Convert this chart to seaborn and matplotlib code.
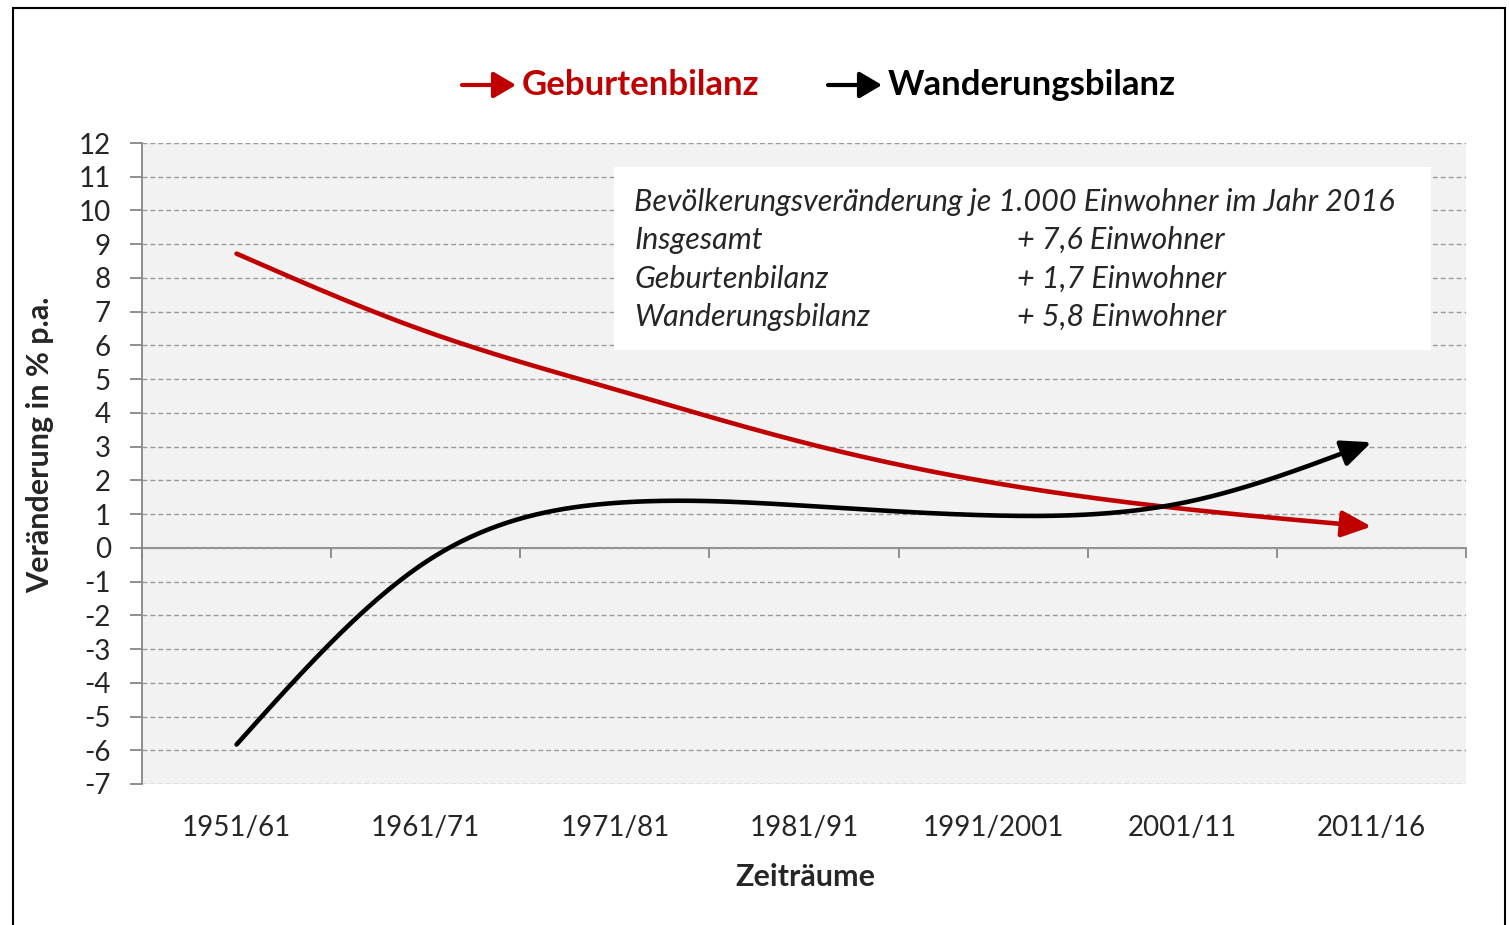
import numpy as np
import pandas as pd
import matplotlib
matplotlib.use("Agg")
import matplotlib.pyplot as plt
import seaborn as sns
from matplotlib.patches import Rectangle

# Data
zeitraeume = ["1951/61", "1961/71", "1971/81", "1981/91", "1991/2001", "2001/11", "2011/16"]
geburtenbilanz = [8.72, 6.42, 4.70, 3.12, 1.93, 1.16, 0.63]
wanderungsbilanz = [-5.83, -0.42, 1.33, 1.25, 0.96, 1.33, 3.13]

box_title = "Bevölkerungsveränderung je 1.000 Einwohner im Jahr 2016"
box_rows = ["Insgesamt", "Geburtenbilanz", "Wanderungsbilanz"]
box_values = ["+ 7,6 Einwohner", "+ 1,7 Einwohner", "+ 5,8 Einwohner"]

RED = "#C00000"
BLACK = "#000000"
W, H = 1509, 925


def smooth(vals, n=60):
    # smoothed line: natural cubic spline through the points
    y = np.asarray(vals, dtype=float)
    k = len(y)
    A = np.zeros((k, k))
    b = np.zeros(k)
    A[0, 0] = A[-1, -1] = 1
    for i in range(1, k - 1):
        A[i, i - 1], A[i, i], A[i, i + 1] = 1, 4, 1
        b[i] = 6 * (y[i + 1] - 2 * y[i] + y[i - 1])
    m = np.linalg.solve(A, b)
    xs, ys = [], []
    for i in range(k - 1):
        t = np.linspace(0, 1, n, endpoint=False)
        seg = ((1 - t) * y[i] + t * y[i + 1]
               + ((1 - t) ** 3 - (1 - t)) * m[i] / 6 + (t ** 3 - t) * m[i + 1] / 6)
        xs.append(i + t)
        ys.append(seg)
    xs.append([k - 1])
    ys.append([y[-1]])
    return np.concatenate(xs), np.concatenate(ys)


def px(x, y):
    return x / W, 1 - y / H


sns.set_style("white")
plt.rcParams["font.family"] = ["Lato", "DejaVu Sans"]
plt.rcParams["axes.unicode_minus"] = False

fig = plt.figure(figsize=(W / 100, H / 100), dpi=100)
ax = fig.add_axes([142 / W, (H - 784) / H, 1324 / W, 641 / H])
ax.set_facecolor("#F2F2F2")

# gridlines
ax.set_ylim(-7, 12)
ax.set_xlim(-0.5, 6.5)
ax.set_yticks(range(-7, 13))
ax.yaxis.grid(True, color="#9A9A9A", linestyle=(0, (3.5, 2.2)), linewidth=1.0)
ax.set_axisbelow(True)

# lines with arrows at the end
for vals, color in [(geburtenbilanz, RED), (wanderungsbilanz, BLACK)]:
    sx, sy = smooth(vals)
    df = pd.DataFrame({"x": sx, "y": sy})
    cut = len(df) - 9
    sns.lineplot(data=df.iloc[:cut + 1], x="x", y="y", color=color, linewidth=3.3,
                 ax=ax, solid_capstyle="round", zorder=4)
    ax.annotate("", xy=(sx[-1], sy[-1]), xytext=(sx[cut], sy[cut]),
                arrowprops=dict(arrowstyle="-|>,head_length=0.9,head_width=0.4",
                                color=color, lw=3.3, mutation_scale=20,
                                shrinkA=0, shrinkB=0), zorder=5)

# axes styling
for s in ["top", "right", "bottom"]:
    ax.spines[s].set_visible(False)
ax.spines["left"].set_color("#868686")
ax.spines["left"].set_linewidth(1.3)
ax.tick_params(axis="y", direction="out", length=8.5, width=1.3, color="#868686",
               labelsize=20, pad=14, left=True)
ax.set_xticks(range(len(zeitraeume)))
ax.set_xticklabels(zeitraeume)
ax.tick_params(axis="x", length=0, labelsize=20, pad=22)
ax.set_xlabel("")
ax.set_ylabel("")

# zero axis with category separators
zero = ax.secondary_xaxis(7 / 19)
zero.set_xticks(np.arange(-0.5, 7, 1))
zero.tick_params(axis="x", direction="out", length=7, width=1.3, color="#868686",
                 labelbottom=False)
zero.spines["bottom"].set_color("#868686")
zero.spines["bottom"].set_linewidth(1.3)

# info box
box = Rectangle(((614 - 142) / 1324, (784 - 350) / 641), (1431 - 614) / 1324, (350 - 167) / 641,
                transform=ax.transAxes, facecolor="white", edgecolor="none", zorder=2)
ax.add_patch(box)
fig.text(*px(634, 202), box_title, fontsize=22, style="italic", va="center", ha="left")
for i, (lab, val) in enumerate(zip(box_rows, box_values)):
    y = 240 + i * 38.5
    fig.text(*px(634, y), lab, fontsize=22, style="italic", va="center", ha="left")
    fig.text(*px(1017, y), val, fontsize=22, style="italic", va="center", ha="left")

# axis titles
fig.text(*px(40, 445), "Veränderung in % p.a.", rotation=90, fontsize=22,
         fontweight="bold", ha="center", va="center")
fig.text(*px(805, 877), "Zeiträume", fontsize=22, fontweight="bold", ha="center", va="center")

# legend
for x0, x1, tx, label, color in [(462, 516, 522, "Geburtenbilanz", RED),
                                  (828, 882, 888, "Wanderungsbilanz", BLACK)]:
    ax.annotate("", xy=px(x1, 85), xytext=px(x0, 85), xycoords="figure fraction",
                textcoords="figure fraction",
                arrowprops=dict(arrowstyle="-|>,head_length=0.85,head_width=0.5",
                                color=color, lw=3.0, mutation_scale=16,
                                shrinkA=0, shrinkB=0))
    fig.text(*px(tx, 85), label, fontsize=25, fontweight="bold", color=color,
             ha="left", va="center")

# chart border
fig.patches.append(Rectangle((13 / W, -0.05), (1505 - 13) / W, 1.05 - 8 / H,
                             transform=fig.transFigure, fill=False,
                             edgecolor="black", linewidth=1.5))

fig.savefig("out.png", dpi=100)
